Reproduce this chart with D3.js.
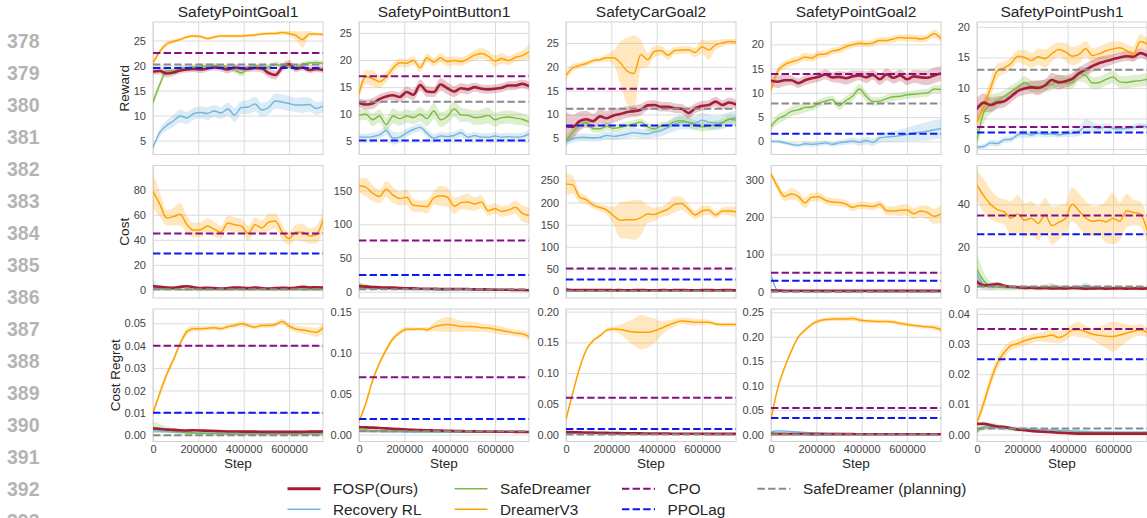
<!DOCTYPE html>
<html>
<head>
<meta charset="utf-8">
<script src="https://cdn.jsdelivr.net/npm/d3@7"></script>
<style>
  body { margin: 0; background: #fff; }
  svg { display: block; font-family: "Liberation Sans", Arial, Helvetica, sans-serif; }
</style>
</head>
<body>
<svg id="fig" width="1147" height="518"></svg>
<script>
// ---------------------------------------------------------------------------
// Categories and axes
// ---------------------------------------------------------------------------
const envNames = ["SafetyPointGoal1", "SafetyPointButton1", "SafetyCarGoal2", "SafetyPointGoal2", "SafetyPointPush1"];
const metricNames = ["Reward", "Cost", "Cost Regret"];
const steps = d3.range(0, 750001, 30000);            // evaluation steps (26 points)
const xTicks = [0, 200000, 400000, 600000];
const stepMax = 750000;

const rewardLimits = [[2.2, 28.7], [2.6, 27.0], [1.6, 29.4], [-2.7, 24.6], [-0.9, 20.8]];
const costLimits   = [[-6.4, 99.3], [-9.3, 187], [-15.8, 283.8], [-16.8, 338], [-4.1, 58.3]];
const regretLimits = [[-0.0028, 0.0564], [-0.0085, 0.1533], [-0.0114, 0.2044], [-0.0143, 0.2567], [-0.0023, 0.04165]];
const rewardTickStep = [5, 5, 5, 5, 5];
const costTickStep   = [20, 50, 50, 100, 20];
const regretTickStep = [0.01, 0.05, 0.05, 0.05, 0.01];

// ---------------------------------------------------------------------------
// FOSP (Ours): mean and spread per environment
// ---------------------------------------------------------------------------
const fospReward = [
  [18.8,18.9,18.4,18.6,19.0,19.2,19.3,19.2,19.4,19.6,19.5,19.2,19.6,19.4,19.3,19.5,19.4,18.5,18.1,19.6,20.3,19.3,19.6,19.1,19.3,19.1],
  [12.1,11.8,12.0,12.8,13.3,13.5,13.2,14.1,13.6,15.4,14.2,14.1,15.5,14.8,14.2,14.8,14.6,15.0,14.7,14.6,14.7,14.9,15.3,15.3,15.6,15.2],
  [7.5,7.4,8.6,9.0,8.6,9.6,9.2,9.8,10.1,10.5,10.7,11.0,11.9,12.0,11.6,11.6,11.3,11.2,10.3,11.3,11.8,12.0,12.7,12.0,12.5,12.1],
  [12.5,12.3,12.6,12.6,12.0,12.6,13.0,13.3,13.8,13.2,13.3,13.0,13.4,13.6,13.2,13.7,12.8,13.8,13.1,13.6,12.8,13.4,13.2,13.1,13.6,14.0],
  [6.6,7.6,7.2,7.6,7.8,8.6,9.5,9.9,10.1,10.0,10.4,11.3,10.9,11.1,11.5,12.4,13.0,13.6,14.1,14.4,14.7,15.0,15.2,15.1,15.7,15.3]
];
const fospRewardSd = [
  [0.6,0.7,0.8,0.7,0.6,0.6,0.6,0.7,0.6,0.6,0.7,0.8,0.7,0.6,0.6,0.7,0.8,0.9,0.9,0.8,0.8,0.6,0.6,0.6,0.6,0.6],
  [0.8,0.9,1.0,0.9,0.8,0.8,0.9,1.0,1.0,1.0,1.0,0.9,1.2,1.1,1.0,0.9,0.9,0.8,0.8,0.8,0.8,0.8,0.8,0.8,0.8,0.8],
  [3.0,2.5,2.0,1.8,1.5,1.5,1.5,1.5,1.3,1.2,1.2,1.2,1.0,1.0,1.0,1.0,1.0,1.0,1.2,1.0,1.0,1.0,1.0,1.0,1.0,1.0],
  [1.2,1.3,1.2,1.0,1.0,1.0,1.0,1.0,1.0,1.0,1.2,1.3,1.2,1.0,1.2,1.0,1.2,1.2,1.2,1.2,1.2,1.3,1.4,1.5,1.6,1.5],
  [1.8,1.5,1.2,1.0,1.0,1.0,1.0,1.0,1.0,1.2,1.0,1.2,1.2,1.0,1.0,1.0,1.0,1.0,1.0,0.9,0.8,0.8,0.8,0.8,0.8,0.8]
];
const fospCost = [
  [3.0,2.5,2.0,1.8,2.5,3.0,2.2,1.5,1.8,1.5,1.2,1.5,2.0,1.8,1.5,2.0,1.5,1.2,1.5,1.8,1.5,1.8,2.5,2.0,2.2,2.0],
  [8.0,7.5,7.0,6.5,6.0,6.0,5.5,5.0,5.0,4.5,4.5,4.5,4.0,4.0,4.0,4.0,4.0,3.5,3.5,3.5,3.0,3.0,3.0,2.5,2.5,2.2],
  [2.5,2.2,2.0,2.2,1.9,2.0,2.4,1.8,2.0,1.7,1.9,2.1,1.8,1.7,2.0,1.8,1.9,2.2,1.8,1.7,1.9,2.0,1.8,1.9,2.1,1.8],
  [3.5,3.0,2.8,2.6,2.5,2.7,2.4,2.5,2.3,2.5,2.4,2.2,2.4,2.3,2.5,2.2,2.4,2.3,2.2,2.4,2.3,2.2,2.3,2.4,2.2,2.3],
  [3.5,1.8,2.0,2.5,1.6,1.2,1.0,0.6,0.8,0.5,0.6,0.4,0.5,0.4,0.6,0.5,0.3,0.4,0.5,0.3,0.4,0.5,0.3,0.4,0.3,0.4]
];
const fospCostSd = [
  [0.8,0.8,0.8,0.7,0.9,1.0,0.8,0.6,0.7,0.6,0.5,0.6,0.8,0.7,0.6,0.8,0.6,0.5,0.6,0.7,0.6,0.7,0.9,0.8,0.8,0.8],
  [2.0,1.8,1.6,1.5,1.5,1.4,1.4,1.3,1.3,1.2,1.2,1.2,1.1,1.1,1.1,1.1,1.0,1.0,1.0,1.0,1.0,0.9,0.9,0.9,0.9,0.9],
  [1.0,0.8,0.7,0.7,0.6,0.6,0.7,0.6,0.6,0.5,0.6,0.6,0.5,0.5,0.6,0.5,0.6,0.7,0.5,0.5,0.6,0.6,0.5,0.6,0.6,0.5],
  [1.5,1.2,1.0,1.0,0.9,1.0,0.9,0.9,0.8,0.9,0.9,0.8,0.9,0.8,0.9,0.8,0.9,0.8,0.8,0.9,0.8,0.8,0.8,0.9,0.8,0.8],
  [1.5,1.0,1.0,1.0,0.8,0.6,0.5,0.4,0.5,0.3,0.4,0.3,0.3,0.3,0.4,0.3,0.2,0.3,0.3,0.2,0.3,0.3,0.2,0.3,0.2,0.3]
];
const fospRegret = [
  [0.0030,0.0028,0.0025,0.0024,0.0022,0.0021,0.0022,0.0021,0.0020,0.0019,0.0018,0.0017,0.0017,0.0016,0.0016,0.0016,0.0015,0.0015,0.0015,0.0015,0.0015,0.0015,0.0015,0.0016,0.0016,0.0017],
  [0.0090,0.0088,0.0085,0.0080,0.0075,0.0070,0.0066,0.0062,0.0058,0.0055,0.0052,0.0050,0.0048,0.0046,0.0044,0.0042,0.0040,0.0039,0.0038,0.0037,0.0036,0.0035,0.0034,0.0033,0.0032,0.0031],
  [0.0040,0.0038,0.0035,0.0032,0.0030,0.0028,0.0026,0.0024,0.0022,0.0020,0.0019,0.0018,0.0017,0.0016,0.0015,0.0014,0.0013,0.0013,0.0012,0.0012,0.0011,0.0011,0.0011,0.0010,0.0010,0.0010],
  [0.0012,0.0011,0.0010,0.0010,0.0009,0.0009,0.0008,0.0008,0.0008,0.0007,0.0007,0.0007,0.0007,0.0006,0.0006,0.0006,0.0006,0.0006,0.0006,0.0005,0.0005,0.0005,0.0005,0.0005,0.0005,0.0005],
  [0.0035,0.0036,0.0031,0.0027,0.0025,0.0021,0.0017,0.0015,0.0012,0.0010,0.0009,0.0008,0.0006,0.0005,0.0004,0.0003,0.0003,0.0003,0.0003,0.0003,0.0003,0.0003,0.0003,0.0003,0.0003,0.0003]
];
const fospRegretSd = [
  [0.0006,0.0006,0.0006,0.0006,0.0006,0.0006,0.0006,0.0006,0.0005,0.0005,0.0005,0.0005,0.0005,0.0005,0.0005,0.0005,0.0005,0.0005,0.0005,0.0005,0.0005,0.0005,0.0005,0.0005,0.0005,0.0006],
  [0.0012,0.0012,0.0011,0.0011,0.0010,0.0010,0.0010,0.0009,0.0009,0.0009,0.0008,0.0008,0.0008,0.0008,0.0007,0.0007,0.0007,0.0007,0.0007,0.0007,0.0006,0.0006,0.0006,0.0006,0.0006,0.0006],
  [0.0008,0.0008,0.0007,0.0007,0.0007,0.0006,0.0006,0.0006,0.0006,0.0005,0.0005,0.0005,0.0005,0.0005,0.0005,0.0005,0.0005,0.0005,0.0005,0.0005,0.0005,0.0005,0.0005,0.0005,0.0005,0.0005],
  [0.0005,0.0005,0.0005,0.0005,0.0005,0.0005,0.0004,0.0004,0.0004,0.0004,0.0004,0.0004,0.0004,0.0004,0.0004,0.0004,0.0004,0.0004,0.0004,0.0004,0.0004,0.0004,0.0004,0.0004,0.0004,0.0004],
  [0.0006,0.0006,0.0006,0.0005,0.0005,0.0005,0.0005,0.0004,0.0004,0.0004,0.0003,0.0003,0.0003,0.0003,0.0003,0.0002,0.0002,0.0002,0.0002,0.0002,0.0002,0.0002,0.0002,0.0002,0.0002,0.0002]
];

// ---------------------------------------------------------------------------
// Recovery RL
// ---------------------------------------------------------------------------
const recoveryReward = [
  [3.6,6.6,8.0,8.9,9.9,9.5,10.4,10.6,10.4,10.9,10.5,11.3,10.1,11.6,11.7,12.3,11.1,11.6,12.9,12.7,12.4,12.1,12.1,12.2,11.4,11.9],
  [5.8,5.8,5.9,6.2,7.0,5.6,5.8,6.6,7.2,7.6,6.5,5.6,6.0,5.9,6.1,6.6,5.8,6.1,5.8,5.8,6.0,5.8,5.9,5.8,5.9,6.4],
  [4.2,4.9,5.2,5.2,5.1,5.2,5.6,5.4,5.6,5.9,6.2,6.0,5.9,6.3,6.6,7.3,8.0,8.4,8.4,8.2,8.8,8.4,8.2,8.4,9.0,9.3],
  [0.0,0.0,-0.3,-0.6,-0.8,-0.5,-0.6,-0.5,-0.3,-0.6,-0.3,-0.1,0.1,-0.2,0.2,-0.2,0.7,0.9,1.0,1.2,1.4,1.7,1.9,2.1,2.4,2.6],
  [0.3,0.4,1.0,0.9,1.5,1.6,2.3,2.5,2.3,2.6,2.4,2.5,2.3,2.5,2.6,2.9,3.7,3.6,3.4,3.6,3.4,3.3,3.4,3.5,3.8,3.6]
];
const recoveryRewardSd = [
  [0.3,0.8,1.0,1.2,1.3,1.2,1.2,1.2,1.3,1.2,1.2,1.3,1.4,1.3,1.4,1.5,1.4,1.4,1.5,1.5,1.5,1.4,1.6,1.4,1.3,1.2],
  [0.6,0.6,0.7,0.7,0.8,1.2,0.9,0.8,0.7,0.7,0.8,0.8,0.7,0.7,0.7,0.8,0.7,0.7,0.7,0.7,0.7,0.7,0.7,0.7,0.7,0.7],
  [0.8,0.8,0.8,0.8,0.8,0.8,0.8,0.8,0.8,0.9,1.0,1.0,1.0,1.1,1.2,1.3,1.5,1.5,1.5,1.5,1.5,1.5,1.5,1.5,1.5,1.5],
  [0.4,0.4,0.4,0.4,0.4,0.5,0.5,0.5,0.5,0.5,0.6,0.6,0.7,0.7,0.8,0.8,0.9,1.0,1.1,1.2,1.4,1.6,1.8,1.9,2.0,2.0],
  [0.3,0.4,0.5,0.5,0.5,0.5,0.5,0.6,0.5,0.5,0.5,0.5,0.5,0.5,0.6,0.8,1.2,0.8,0.6,0.6,0.5,0.5,0.5,0.5,0.5,0.5]
];
const recoveryCost = [
  [4.0,1.5,0.8,0.6,0.5,0.5,0.5,0.4,0.4,0.5,0.4,0.4,0.5,0.4,0.4,0.4,0.5,0.4,0.4,0.4,0.4,0.5,0.4,0.4,0.4,0.4],
  [6.0,5.0,4.5,4.2,4.0,3.8,3.6,3.5,3.3,3.2,3.0,2.5,2.0,2.2,2.5,2.8,3.0,2.8,2.6,2.7,2.6,2.5,2.6,2.4,2.5,2.4],
  [6.0,2.0,1.2,1.0,0.9,0.8,0.8,0.8,0.7,0.8,0.7,0.7,0.8,0.7,0.7,0.7,0.7,0.8,0.7,0.7,0.7,0.7,0.7,0.7,0.7,0.7],
  [45.0,3.0,1.0,0.6,0.5,0.5,0.5,0.5,0.5,0.5,0.5,0.5,0.5,0.5,0.5,0.5,0.5,0.5,0.5,0.5,0.5,0.5,0.5,0.5,0.5,0.5],
  [7.0,2.2,1.2,1.0,0.9,0.8,0.8,0.7,0.8,0.9,0.7,0.8,1.0,0.8,0.7,0.9,1.8,0.9,0.7,0.6,0.6,0.7,0.6,0.7,0.6,0.6]
];
const recoveryCostSd = [
  [5.0,1.5,0.6,0.4,0.3,0.3,0.3,0.3,0.3,0.3,0.3,0.3,0.3,0.3,0.3,0.3,0.3,0.3,0.3,0.3,0.3,0.3,0.3,0.3,0.3,0.3],
  [2.0,1.5,1.3,1.2,1.2,1.1,1.1,1.0,1.0,1.0,1.0,1.0,1.0,1.0,1.0,1.0,1.0,1.0,1.0,1.0,1.0,1.0,1.0,1.0,1.0,1.0],
  [5.0,1.5,0.8,0.6,0.5,0.5,0.5,0.5,0.5,0.5,0.5,0.5,0.5,0.5,0.5,0.5,0.5,0.5,0.5,0.5,0.5,0.5,0.5,0.5,0.5,0.5],
  [6.0,3.0,1.0,0.5,0.4,0.4,0.4,0.4,0.4,0.4,0.4,0.4,0.4,0.4,0.4,0.4,0.4,0.4,0.4,0.4,0.4,0.4,0.4,0.4,0.4,0.4],
  [5.0,2.0,1.0,0.8,0.7,0.6,0.6,0.6,0.6,0.7,0.6,0.6,0.8,0.6,0.6,0.7,1.5,0.7,0.6,0.5,0.5,0.5,0.5,0.5,0.5,0.5]
];
const recoveryRegret = [
  [0.0020,0.0018,0.0016,0.0014,0.0013,0.0012,0.0011,0.0010,0.0010,0.0009,0.0009,0.0009,0.0008,0.0008,0.0008,0.0008,0.0008,0.0008,0.0008,0.0008,0.0008,0.0008,0.0008,0.0008,0.0008,0.0008],
  [0.0040,0.0038,0.0036,0.0035,0.0034,0.0033,0.0032,0.0031,0.0030,0.0030,0.0030,0.0029,0.0029,0.0029,0.0028,0.0028,0.0028,0.0028,0.0028,0.0028,0.0028,0.0028,0.0028,0.0028,0.0028,0.0028],
  [0.0020,0.0019,0.0018,0.0017,0.0016,0.0015,0.0014,0.0013,0.0013,0.0012,0.0012,0.0012,0.0011,0.0011,0.0011,0.0011,0.0010,0.0010,0.0010,0.0010,0.0010,0.0010,0.0010,0.0010,0.0010,0.0010],
  [0.0050,0.0075,0.0070,0.0060,0.0050,0.0040,0.0035,0.0030,0.0025,0.0020,0.0020,0.0018,0.0016,0.0015,0.0014,0.0013,0.0012,0.0012,0.0011,0.0011,0.0010,0.0010,0.0010,0.0010,0.0010,0.0010],
  [0.0020,0.0022,0.0023,0.0023,0.0022,0.0021,0.0020,0.0019,0.0018,0.0017,0.0016,0.0015,0.0014,0.0013,0.0012,0.0011,0.0010,0.0009,0.0009,0.0009,0.0008,0.0008,0.0008,0.0008,0.0008,0.0008]
];
const recoveryRegretSd = [
  [0.0008,0.0007,0.0006,0.0005,0.0005,0.0005,0.0004,0.0004,0.0004,0.0004,0.0004,0.0004,0.0004,0.0004,0.0004,0.0004,0.0004,0.0004,0.0004,0.0004,0.0004,0.0004,0.0004,0.0004,0.0004,0.0004],
  [0.0010,0.0010,0.0009,0.0009,0.0008,0.0008,0.0008,0.0008,0.0007,0.0007,0.0007,0.0007,0.0007,0.0007,0.0007,0.0007,0.0007,0.0007,0.0007,0.0007,0.0007,0.0007,0.0007,0.0007,0.0007,0.0007],
  [0.0008,0.0007,0.0007,0.0006,0.0006,0.0005,0.0005,0.0005,0.0005,0.0005,0.0005,0.0005,0.0005,0.0005,0.0005,0.0005,0.0005,0.0005,0.0005,0.0005,0.0005,0.0005,0.0005,0.0005,0.0005,0.0005],
  [0.0020,0.0022,0.0020,0.0018,0.0015,0.0012,0.0010,0.0009,0.0008,0.0007,0.0007,0.0006,0.0006,0.0006,0.0005,0.0005,0.0005,0.0005,0.0005,0.0005,0.0005,0.0005,0.0005,0.0005,0.0005,0.0005],
  [0.0008,0.0008,0.0008,0.0008,0.0008,0.0007,0.0007,0.0007,0.0006,0.0006,0.0006,0.0006,0.0006,0.0005,0.0005,0.0005,0.0005,0.0004,0.0004,0.0004,0.0004,0.0004,0.0004,0.0004,0.0004,0.0004]
];

// ---------------------------------------------------------------------------
// SafeDreamer
// ---------------------------------------------------------------------------
const safeReward = [
  [12.6,16.2,18.9,18.9,19.4,19.5,19.7,19.85,19.9,20.0,19.7,19.7,19.1,18.5,19.6,19.85,19.7,19.7,20.2,20.0,19.8,19.7,20.3,20.5,20.6,20.4],
  [9.8,10.0,9.0,9.7,8.1,9.7,9.2,9.7,9.4,10.0,9.2,10.6,9.0,9.6,11.0,9.9,9.8,9.4,9.5,9.8,9.0,9.4,9.5,9.3,9.1,8.6],
  [4.5,6.3,7.7,8.3,7.0,7.0,7.5,7.1,7.3,7.7,8.0,8.4,7.4,7.0,7.6,7.8,8.5,8.7,8.3,7.8,7.4,7.6,7.8,8.2,9.0,8.8],
  [3.1,4.6,5.3,6.2,6.5,7.0,7.1,7.8,8.3,8.6,7.4,8.4,9.3,10.8,9.3,8.2,8.3,8.8,9.2,9.3,9.6,9.7,9.9,10.0,10.8,10.7],
  [1.5,6.0,7.3,8.0,8.6,9.4,10.1,10.9,10.3,10.2,10.4,10.6,11.2,10.8,10.9,12.3,12.0,10.8,10.9,11.4,11.8,11.0,10.9,11.1,11.2,11.4]
];
const safeRewardSd = [
  [0.8,0.8,0.7,0.6,0.6,0.5,0.5,0.5,0.5,0.5,0.5,0.5,0.6,0.7,0.6,0.5,0.5,0.5,0.6,0.5,0.5,0.5,0.5,0.5,0.5,0.5],
  [1.0,1.0,1.2,1.2,1.3,1.4,1.3,1.2,1.2,1.3,1.4,1.5,1.4,1.3,1.5,1.3,1.2,1.3,1.4,1.5,1.3,1.2,1.2,1.2,1.1,1.0],
  [1.0,0.8,0.8,0.8,0.8,0.8,0.8,0.8,0.8,0.8,0.8,0.8,0.8,0.8,0.8,0.8,0.9,1.0,1.0,1.0,1.0,1.0,0.9,0.9,0.9,0.9],
  [0.8,1.0,1.0,1.0,1.0,1.0,0.8,0.8,0.8,0.8,0.9,0.9,1.0,1.0,1.0,0.9,0.8,0.8,0.8,0.8,0.8,0.8,0.8,0.8,0.8,0.8],
  [1.5,1.8,1.5,1.2,1.0,1.0,1.0,1.0,1.0,1.0,1.0,1.0,1.0,1.0,1.0,1.2,1.2,1.0,1.0,1.0,1.0,1.0,1.0,1.0,1.0,1.0]
];
const safeCost = [
  [2.0,1.0,0.6,0.5,0.4,0.4,0.4,0.4,0.4,0.4,0.4,0.4,0.4,0.4,0.4,0.4,0.4,0.4,0.4,0.4,0.4,0.4,0.4,0.4,0.4,0.4],
  [11.0,8.5,7.0,6.0,5.5,5.0,4.8,4.5,4.3,4.2,4.0,3.8,3.7,3.6,3.5,3.5,3.4,3.3,3.3,3.2,3.2,3.1,3.0,3.0,3.0,2.9],
  [1.0,0.6,0.5,0.4,0.4,0.4,0.4,0.4,0.4,0.4,0.4,0.4,0.4,0.4,0.4,0.4,0.4,0.4,0.4,0.4,0.4,0.4,0.4,0.4,0.4,0.4],
  [3.0,2.0,1.5,1.2,1.0,1.0,1.0,1.0,1.0,1.0,1.0,1.0,1.0,1.0,1.0,1.0,1.0,1.0,1.0,1.0,1.0,1.0,1.0,1.0,1.0,1.0],
  [9.0,4.0,1.5,1.0,0.8,0.8,0.9,0.8,0.7,0.8,1.0,1.5,0.9,0.7,0.8,0.9,1.0,0.8,0.7,0.8,0.7,0.6,0.7,0.6,0.6,0.6]
];
const safeCostSd = [
  [1.5,0.8,0.4,0.3,0.3,0.3,0.3,0.3,0.3,0.3,0.3,0.3,0.3,0.3,0.3,0.3,0.3,0.3,0.3,0.3,0.3,0.3,0.3,0.3,0.3,0.3],
  [3.0,2.5,2.0,1.8,1.6,1.5,1.4,1.4,1.3,1.3,1.3,1.2,1.2,1.2,1.2,1.2,1.2,1.2,1.2,1.2,1.2,1.2,1.2,1.2,1.2,1.2],
  [0.8,0.5,0.4,0.3,0.3,0.3,0.3,0.3,0.3,0.3,0.3,0.3,0.3,0.3,0.3,0.3,0.3,0.3,0.3,0.3,0.3,0.3,0.3,0.3,0.3,0.3],
  [1.0,0.8,0.6,0.5,0.5,0.5,0.5,0.5,0.5,0.5,0.5,0.5,0.5,0.5,0.5,0.5,0.5,0.5,0.5,0.5,0.5,0.5,0.5,0.5,0.5,0.5],
  [8.0,4.0,2.0,1.0,1.0,1.0,1.0,1.0,1.0,1.0,1.2,1.6,1.0,1.0,1.0,1.0,1.0,1.0,1.0,1.0,1.0,1.0,1.0,1.0,1.0,1.0]
];
const safeRegret = [
  [0.0035,0.0030,0.0025,0.0020,0.0015,0.0011,0.0009,0.0008,0.0007,0.0006,0.0006,0.0005,0.0005,0.0005,0.0005,0.0005,0.0005,0.0005,0.0005,0.0005,0.0005,0.0005,0.0005,0.0005,0.0005,0.0005],
  [0.0060,0.0055,0.0050,0.0048,0.0046,0.0044,0.0042,0.0040,0.0038,0.0037,0.0036,0.0035,0.0034,0.0033,0.0033,0.0032,0.0032,0.0031,0.0031,0.0030,0.0030,0.0030,0.0030,0.0030,0.0030,0.0030],
  [0.0040,0.0035,0.0030,0.0026,0.0023,0.0020,0.0018,0.0016,0.0015,0.0014,0.0013,0.0012,0.0012,0.0011,0.0011,0.0011,0.0010,0.0010,0.0010,0.0010,0.0010,0.0010,0.0010,0.0010,0.0010,0.0010],
  [0.0030,0.0028,0.0025,0.0022,0.0020,0.0018,0.0016,0.0015,0.0014,0.0013,0.0012,0.0012,0.0011,0.0011,0.0010,0.0010,0.0010,0.0010,0.0010,0.0010,0.0010,0.0010,0.0010,0.0010,0.0010,0.0010],
  [0.0010,0.0025,0.0030,0.0027,0.0023,0.0018,0.0015,0.0013,0.0012,0.0011,0.0010,0.0009,0.0009,0.0008,0.0008,0.0007,0.0007,0.0007,0.0006,0.0006,0.0006,0.0006,0.0006,0.0006,0.0006,0.0006]
];
const safeRegretSd = [
  [0.0025,0.0020,0.0015,0.0012,0.0009,0.0007,0.0006,0.0005,0.0005,0.0004,0.0004,0.0004,0.0004,0.0004,0.0004,0.0004,0.0004,0.0004,0.0004,0.0004,0.0004,0.0004,0.0004,0.0004,0.0004,0.0004],
  [0.0015,0.0014,0.0013,0.0012,0.0011,0.0010,0.0010,0.0009,0.0009,0.0009,0.0008,0.0008,0.0008,0.0008,0.0008,0.0008,0.0008,0.0008,0.0008,0.0008,0.0008,0.0008,0.0008,0.0008,0.0008,0.0008],
  [0.0012,0.0010,0.0009,0.0008,0.0007,0.0006,0.0006,0.0005,0.0005,0.0005,0.0005,0.0005,0.0005,0.0005,0.0005,0.0005,0.0005,0.0005,0.0005,0.0005,0.0005,0.0005,0.0005,0.0005,0.0005,0.0005],
  [0.0010,0.0010,0.0009,0.0008,0.0007,0.0006,0.0006,0.0005,0.0005,0.0005,0.0005,0.0005,0.0005,0.0005,0.0005,0.0005,0.0005,0.0005,0.0005,0.0005,0.0005,0.0005,0.0005,0.0005,0.0005,0.0005],
  [0.0008,0.0010,0.0010,0.0009,0.0008,0.0007,0.0006,0.0005,0.0005,0.0005,0.0004,0.0004,0.0004,0.0004,0.0004,0.0004,0.0004,0.0004,0.0004,0.0004,0.0004,0.0004,0.0004,0.0004,0.0004,0.0004]
];

// ---------------------------------------------------------------------------
// DreamerV3
// ---------------------------------------------------------------------------
const dreamerReward = [
  [20.5,22.8,24.3,24.8,25.2,25.7,25.9,25.8,25.4,25.7,25.9,25.9,25.9,25.9,26.0,26.1,26.3,26.4,26.4,26.6,26.4,26.0,25.2,26.3,26.3,26.2],
  [13.8,16.9,16.6,16.0,16.9,18.5,19.5,19.4,19.9,18.6,20.4,19.6,20.4,19.7,19.9,19.7,20.2,20.9,21.2,20.7,19.8,20.3,19.9,20.5,20.8,21.5],
  [18.2,19.8,20.3,20.7,21.3,21.5,21.9,21.9,20.8,19.1,18.6,22.6,21.5,23.2,23.4,22.4,23.4,23.5,23.6,23.0,24.2,23.5,24.6,25.0,25.3,25.2],
  [10.6,14.5,15.8,16.4,16.8,17.4,17.2,17.9,18.0,18.6,18.9,19.5,19.9,20.2,20.1,20.3,20.8,20.8,21.1,21.4,21.3,21.3,21.1,21.4,22.2,21.2],
  [4.4,7.0,10.0,12.8,13.3,14.0,15.2,15.0,14.5,15.1,14.8,15.6,16.3,15.9,15.2,15.5,16.4,15.3,15.6,16.1,16.4,16.6,16.1,15.6,17.6,17.2]
];
const dreamerRewardSd = [
  [0.4,0.5,0.5,0.4,0.3,0.3,0.3,0.3,0.3,0.3,0.3,0.3,0.3,0.3,0.3,0.3,0.3,0.3,0.3,0.4,0.5,0.9,1.6,0.6,0.3,0.3],
  [1.0,1.3,1.5,1.2,1.0,1.0,0.8,0.8,0.8,0.8,0.8,0.8,0.9,0.9,0.8,0.8,0.8,0.9,1.0,1.0,1.1,1.0,0.8,0.8,0.9,1.4],
  [0.8,0.8,0.6,0.6,0.5,0.5,0.8,1.5,4.5,7.0,8.0,3.0,1.5,1.2,1.0,1.0,0.8,0.8,0.8,1.0,1.5,2.0,1.0,0.8,0.6,0.6],
  [0.8,0.8,0.8,0.8,0.8,0.8,0.8,0.8,0.7,0.7,0.7,0.7,0.7,0.7,0.7,0.7,0.7,0.7,0.7,0.7,0.7,0.7,0.7,0.7,0.8,0.8],
  [0.8,1.2,1.5,1.2,1.0,1.0,1.0,1.2,1.2,1.3,1.5,1.3,1.2,1.5,1.5,1.5,1.3,1.2,1.2,1.2,1.2,1.0,1.0,1.2,1.2,1.0]
];
const dreamerCost = [
  [78.7,68.5,57.5,58.5,60.5,52,47.7,48,51,48.5,46,53.5,52,51,45,52,49.5,54,55,46,41,46,46,43,44,55.6],
  [157,155,146,141,152,143,138,140,128,127,126,139,142,140,127,132,133,130,133,120,123,119,121,125,116,113],
  [242,240,212,206,194,189,183,170,160,161,161,166,174,173,179,185,196,198,185,172,181,183,172,181,181,179],
  [316,280,255,262,255,238,253,254,245,240,239,235,226,231,230,228,234,217,216,218,219,209,216,212,202,209],
  [49,44,40,37.5,36.5,33.5,35.5,32.5,33.5,31,35,30,31.5,33.3,40,37,33.6,32,32.5,31.8,33.3,32,37,36.2,35.5,28]
];
const dreamerCostSd = [
  [14,10,6,7,9,7,6,6,6,6,5,6,6,6,6,6,6,7,6,6,5,6,7,6,7,8],
  [10,14,12,10,12,12,10,12,10,8,10,10,15,14,12,10,12,10,10,8,8,8,8,10,12,12],
  [25,20,12,10,8,8,10,20,40,42,45,40,20,15,12,15,18,15,12,10,12,10,8,8,10,12],
  [5,12,12,15,14,14,12,12,10,10,10,10,10,10,10,10,10,12,12,15,15,15,15,18,20,25],
  [7,8,7,6,6,8,9,8,8,8,8,9,8,7,8,8,8,7,7,10,12,9,8,6,6,6]
];
const dreamerRegret = [
  [0.0099,0.0188,0.0270,0.0337,0.0410,0.0463,0.0476,0.0476,0.0478,0.0480,0.0476,0.0485,0.0490,0.0498,0.0490,0.0483,0.0490,0.0490,0.0495,0.0508,0.0488,0.0475,0.0470,0.0465,0.0460,0.0480],
  [0.016,0.038,0.066,0.087,0.1035,0.117,0.1245,0.1285,0.1285,0.129,0.128,0.1315,0.1335,0.1345,0.1335,0.132,0.132,0.1315,0.1305,0.130,0.1285,0.127,0.1255,0.124,0.123,0.1195],
  [0.0243,0.068,0.108,0.138,0.153,0.161,0.170,0.172,0.171,0.1686,0.1668,0.1665,0.1665,0.169,0.173,0.178,0.182,0.185,0.184,0.183,0.183,0.183,0.180,0.179,0.179,0.179],
  [0.031,0.095,0.137,0.171,0.199,0.2135,0.2255,0.232,0.235,0.236,0.2364,0.2365,0.2375,0.234,0.2325,0.2315,0.231,0.231,0.230,0.227,0.225,0.2232,0.2212,0.2202,0.219,0.2147],
  [0.0040,0.0105,0.0178,0.0237,0.0272,0.0295,0.0302,0.0311,0.0318,0.0323,0.0325,0.0330,0.0322,0.0330,0.0347,0.0348,0.0341,0.0333,0.0329,0.0326,0.0325,0.0330,0.0337,0.0343,0.0347,0.0339]
];
const dreamerRegretSd = [
  [0.0015,0.0015,0.0015,0.0015,0.0015,0.0015,0.0012,0.0010,0.0010,0.0010,0.0010,0.0010,0.0010,0.0012,0.0010,0.0010,0.0010,0.0010,0.0010,0.0012,0.0015,0.0015,0.0015,0.0018,0.0020,0.0022],
  [0.002,0.003,0.003,0.003,0.003,0.003,0.003,0.003,0.002,0.002,0.003,0.005,0.008,0.009,0.008,0.007,0.006,0.006,0.005,0.005,0.005,0.005,0.004,0.004,0.004,0.005],
  [0.003,0.004,0.004,0.003,0.003,0.003,0.003,0.004,0.008,0.015,0.022,0.028,0.025,0.020,0.012,0.008,0.006,0.005,0.006,0.005,0.005,0.004,0.003,0.003,0.003,0.003],
  [0.003,0.004,0.004,0.004,0.004,0.004,0.004,0.004,0.004,0.004,0.004,0.005,0.005,0.005,0.004,0.004,0.004,0.004,0.004,0.004,0.004,0.004,0.004,0.004,0.005,0.006],
  [0.0010,0.0020,0.0020,0.0020,0.0020,0.0015,0.0015,0.0015,0.0015,0.0015,0.0018,0.0025,0.0020,0.0020,0.0020,0.0025,0.0020,0.0020,0.0030,0.0040,0.0050,0.0040,0.0030,0.0020,0.0020,0.0015]
];

// ---------------------------------------------------------------------------
// Constant baselines (final performance)
// ---------------------------------------------------------------------------
const cpoReward      = [22.5, 17.0, 15.4, 13.9, 3.6];
const ppoLagReward   = [19.5, 5.2, 7.7, 1.6, 2.7];
const planningReward = [20.2, 12.3, 11.2, 7.8, 13.0];
const cpoCost        = [45, 76, 51, 51, 34.8];
const ppoLagCost     = [29, 24.6, 26, 29.4, 25.9];
const planningCost   = [0.5, 3.5, 0, 0, 1.3];
const cpoRegret      = [0.04, 0.07, 0.06, 0.054, 0.035];
const ppoLagRegret   = [0.01, 0.019, 0.009, 0.034, 0.025];
const planningRegret = [0, 0.004, 0, 0, 0.002];

// ---------------------------------------------------------------------------
// Series styling
// ---------------------------------------------------------------------------
const solidSeries = [
  { label: "FOSP(Ours)",  color: "#a51e38", lw: 2.6, values: [fospReward, fospCost, fospRegret],         spread: [fospRewardSd, fospCostSd, fospRegretSd] },
  { label: "Recovery RL", color: "#72b5de", lw: 1.4, values: [recoveryReward, recoveryCost, recoveryRegret], spread: [recoveryRewardSd, recoveryCostSd, recoveryRegretSd] },
  { label: "SafeDreamer", color: "#7bbb40", lw: 1.4, values: [safeReward, safeCost, safeRegret],         spread: [safeRewardSd, safeCostSd, safeRegretSd] },
  { label: "DreamerV3",   color: "#ffa200", lw: 1.5, values: [dreamerReward, dreamerCost, dreamerRegret], spread: [dreamerRewardSd, dreamerCostSd, dreamerRegretSd] }
];
const dashedSeries = [
  { label: "CPO",                    color: "#860f86", values: [cpoReward, cpoCost, cpoRegret] },
  { label: "PPOLag",                 color: "#0d19f2", values: [ppoLagReward, ppoLagCost, ppoLagRegret] },
  { label: "SafeDreamer (planning)", color: "#8a8a8a", values: [planningReward, planningCost, planningRegret] }
];
const lineDrawOrder = [1, 2, 3, 0];   // FOSP on top of the other solid curves

// ---------------------------------------------------------------------------
// Layout
// ---------------------------------------------------------------------------
const colLeft = [153, 359, 566, 771, 977];
const panelW = 170;
const rowTop = [22, 165.5, 309];
const panelH = 132.5;
const gridColor = "#dcdcdc";

const svg = d3.select("#fig");
const limits = [rewardLimits, costLimits, regretLimits];
const tickSteps = [rewardTickStep, costTickStep, regretTickStep];
const formats = [d3.format("d"), d3.format("d"), d3.format(".2f")];

metricNames.forEach((metric, r) => {
  envNames.forEach((env, c) => {
    const [lo, hi] = limits[r][c];
    const x = d3.scaleLinear().domain([0, stepMax]).range([0, panelW]);
    const y = d3.scaleLinear().domain([lo, hi]).range([panelH, 0]);
    const g = svg.append("g").attr("transform", `translate(${colLeft[c]},${rowTop[r]})`);

    const clipId = `clip-${r}-${c}`;
    g.append("clipPath").attr("id", clipId)
      .append("rect").attr("width", panelW).attr("height", panelH);

    // y ticks from the tick step
    const st = tickSteps[r][c];
    const kMin = Math.ceil(lo / st - 1e-9), kMax = Math.floor(hi / st + 1e-9);
    const yTickVals = d3.range(kMin, kMax + 1).map(k => +(k * st).toFixed(6));

    // gridlines + tick labels via d3 axes
    const yAxis = g.append("g")
      .call(d3.axisLeft(y).tickValues(yTickVals).tickSize(-panelW).tickPadding(7).tickFormat(formats[r]));
    const xAxis = g.append("g").attr("transform", `translate(0,${panelH})`)
      .call(d3.axisBottom(x).tickValues(xTicks).tickSize(-panelH).tickPadding(3.5)
        .tickFormat(r === 2 ? d3.format("d") : () => ""));
    [yAxis, xAxis].forEach(ax => {
      ax.select(".domain").remove();
      ax.selectAll(".tick line").attr("stroke", gridColor).attr("stroke-width", 1);
      ax.selectAll(".tick text").attr("fill", "#444").style("font-size", "11px")
        .style("font-family", '"Liberation Sans", Arial, sans-serif');
    });

    // frame
    g.append("rect").attr("width", panelW).attr("height", panelH)
      .attr("fill", "none").attr("stroke", "#d2d2d2").attr("stroke-width", 1);

    const plot = g.append("g").attr("clip-path", `url(#${clipId})`);

    // shaded spread bands
    lineDrawOrder.forEach(i => {
      const s = solidSeries[i];
      const mean = s.values[r][c], sd = s.spread[r][c];
      const area = d3.area()
        .x((d, k) => x(steps[k]))
        .y0((d, k) => y(mean[k] - sd[k]))
        .y1((d, k) => y(mean[k] + sd[k]))
        .curve(d3.curveMonotoneX);
      plot.append("path").datum(mean).attr("d", area)
        .attr("fill", s.color).attr("fill-opacity", 0.25).attr("stroke", "none");
    });

    // mean curves
    lineDrawOrder.forEach(i => {
      const s = solidSeries[i];
      const line = d3.line().x((d, k) => x(steps[k])).y(d => y(d)).curve(d3.curveMonotoneX);
      plot.append("path").datum(s.values[r][c]).attr("d", line)
        .attr("fill", "none").attr("stroke", s.color).attr("stroke-width", s.lw)
        .attr("stroke-linejoin", "round").attr("stroke-linecap", "round");
    });

    // constant baselines
    dashedSeries.forEach(s => {
      const v = s.values[r][c];
      plot.append("line")
        .attr("x1", x(0)).attr("x2", x(stepMax)).attr("y1", y(v)).attr("y2", y(v))
        .attr("stroke", s.color).attr("stroke-width", 2).attr("stroke-dasharray", "7.4,3.2");
    });

    // titles, axis labels
    if (r === 0) {
      g.append("text").attr("x", panelW / 2).attr("y", -5).attr("text-anchor", "middle")
        .style("font-size", "15.5px").attr("fill", "#262626").text(env);
    }
    if (r === 2) {
      g.append("text").attr("x", panelW / 2).attr("y", panelH + 26.5).attr("text-anchor", "middle")
        .style("font-size", "13.5px").attr("fill", "#262626").text("Step");
    }
    if (c === 0) {
      let maxW = 0;
      yAxis.selectAll(".tick text").each(function () { maxW = Math.max(maxW, this.getComputedTextLength()); });
      const lx = -7 - maxW - 5;
      g.append("text").attr("transform", `translate(${lx},${panelH / 2}) rotate(-90)`)
        .attr("text-anchor", "middle").style("font-size", "13.5px").attr("fill", "#262626").text(metric);
    }
  });
});

// ---------------------------------------------------------------------------
// Legend
// ---------------------------------------------------------------------------
const legendItems = [
  { s: solidSeries[0], dashed: false, col: 0, row: 0 },
  { s: solidSeries[1], dashed: false, col: 0, row: 1 },
  { s: solidSeries[2], dashed: false, col: 1, row: 0 },
  { s: solidSeries[3], dashed: false, col: 1, row: 1 },
  { s: dashedSeries[0], dashed: true, col: 2, row: 0 },
  { s: dashedSeries[1], dashed: true, col: 2, row: 1 },
  { s: dashedSeries[2], dashed: true, col: 3, row: 0 }
];
const legendColX = [287.5, 454.5, 622, 757.5];
const legendRowY = [488.8, 509.3];
const legend = svg.append("g");
legendItems.forEach(it => {
  const lx = legendColX[it.col], ly = legendRowY[it.row];
  legend.append("line").attr("x1", lx).attr("x2", lx + 33).attr("y1", ly).attr("y2", ly)
    .attr("stroke", it.s.color)
    .attr("stroke-width", it.dashed ? 2 : (it.s.lw > 2 ? 3 : 1.5))
    .attr("stroke-dasharray", it.dashed ? "7.4,3.2" : null);
  legend.append("text").attr("x", lx + 45.5).attr("y", ly + 5.5)
    .style("font-size", "15.3px").attr("fill", "#262626").text(it.s.label);
});

// ---------------------------------------------------------------------------
// Manuscript line numbers in the margin
// ---------------------------------------------------------------------------
svg.append("g").selectAll("text").data(d3.range(378, 394)).join("text")
  .attr("x", 7).attr("y", (d, i) => 47.8 + i * 32)
  .style("font-size", "19.5px").style("font-weight", "bold").attr("fill", "#b4b4b4")
  .text(d => d);
</script>
</body>
</html>
